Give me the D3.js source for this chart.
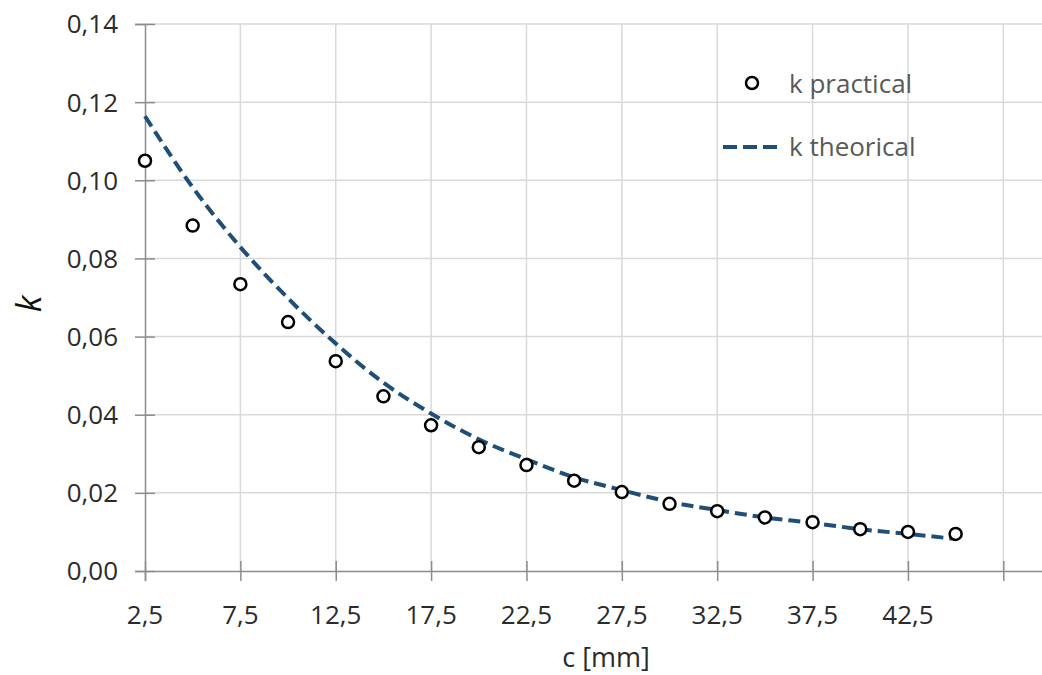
<!DOCTYPE html>
<html>
<head>
<meta charset="utf-8">
<script src="https://cdn.jsdelivr.net/npm/d3@7"></script>
<style>
  body { margin: 0; background: #fff; }
  svg { display: block; font-family: "Open Sans", Lato, sans-serif; }
  .tick-label { fill: #2b2b2b; font-size: 26px; }
  .legend-label { fill: #595959; font-size: 26px; }
</style>
</head>
<body>
<div id="chart"></div>
<script>
// c [mm]
var cValues = [2.5, 5, 7.5, 10, 12.5, 15, 17.5, 20, 22.5, 25, 27.5, 30, 32.5, 35, 37.5, 40, 42.5, 45];
var kPractical = [0.1050, 0.0884, 0.0734, 0.0637, 0.0537, 0.0447, 0.0373, 0.0317, 0.0271, 0.0231,
                  0.0202, 0.0172, 0.0153, 0.0137, 0.0125, 0.0107, 0.0100, 0.0095];
var kTheorical = [0.1164, 0.0982, 0.0829, 0.0698, 0.0582, 0.0482, 0.0403, 0.0337, 0.0286, 0.0240,
                  0.0207, 0.0177, 0.0156, 0.0137, 0.0123, 0.0107, 0.0095, 0.0082];
var xTicks = [2.5, 7.5, 12.5, 17.5, 22.5, 27.5, 32.5, 37.5, 42.5, 47.5];
var xTickLabels = ["2,5", "7,5", "12,5", "17,5", "22,5", "27,5", "32,5", "37,5", "42,5", ""];
var yTicks = [0, 0.02, 0.04, 0.06, 0.08, 0.10, 0.12, 0.14];
var seriesNames = ["k practical", "k theorical"];

var width = 1042, height = 675;
var plot = { left: 145, top: 24, right: 1051, bottom: 571 };
var lineColor = "#1f4e79", gridColor = "#d9d9d9", axisColor = "#8c8c8c";

var svg = d3.select("#chart").append("svg")
    .attr("width", width)
    .attr("height", height);

var x = d3.scaleLinear()
    .domain([2.5, 50])
    .range([plot.left, plot.right]);

var y = d3.scaleLinear()
    .domain([0, 0.14])
    .range([plot.bottom, plot.top]);

// gridlines
svg.append("g")
    .selectAll("line")
    .data(yTicks.slice(1))
  .enter().append("line")
    .attr("x1", plot.left)
    .attr("x2", plot.right)
    .attr("y1", function(d){ return y(d); })
    .attr("y2", function(d){ return y(d); })
    .attr("stroke", gridColor)
    .attr("stroke-width", 1.5);

svg.append("g")
    .selectAll("line")
    .data(xTicks.slice(1))
  .enter().append("line")
    .attr("x1", function(d){ return x(d); })
    .attr("x2", function(d){ return x(d); })
    .attr("y1", plot.top)
    .attr("y2", plot.bottom)
    .attr("stroke", gridColor)
    .attr("stroke-width", 1.5);

// axes (cross tick marks)
var xAxis = svg.append("g")
    .attr("transform", "translate(0," + plot.bottom + ")")
    .call(d3.axisBottom(x).tickValues(xTicks).tickSize(10).tickFormat(""));
var yAxis = svg.append("g")
    .attr("transform", "translate(" + plot.left + ",0)")
    .call(d3.axisLeft(y).tickValues(yTicks).tickSize(10).tickFormat(""));

[xAxis, yAxis].forEach(function(ax){
  ax.select(".domain").attr("stroke", axisColor).attr("stroke-width", 1.5);
  ax.selectAll(".tick line").attr("stroke", axisColor).attr("stroke-width", 1.5);
});
xAxis.selectAll(".tick line").attr("y1", -10);
yAxis.selectAll(".tick line").attr("x1", 10);

// tick labels
svg.append("g")
    .selectAll("text")
    .data(xTicks)
  .enter().append("text")
    .attr("class", "tick-label")
    .attr("x", function(d){ return x(d); })
    .attr("y", plot.bottom + 53)
    .attr("text-anchor", "middle")
    .text(function(d, i){ return xTickLabels[i]; });

svg.append("g")
    .selectAll("text")
    .data(yTicks)
  .enter().append("text")
    .attr("class", "tick-label")
    .attr("x", plot.left - 27)
    .attr("y", function(d){ return y(d); })
    .attr("dy", "0.36em")
    .attr("text-anchor", "end")
    .text(function(d){ return d3.format(".2f")(d).replace(".", ","); });

// axis titles
svg.append("text")
    .attr("x", 606)
    .attr("y", 667)
    .attr("text-anchor", "middle")
    .attr("fill", "#2b2b2b")
    .style("font-size", "27px")
    .text("c [mm]");

svg.append("text")
    .attr("transform", "translate(41,304) rotate(-90)")
    .attr("text-anchor", "middle")
    .attr("fill", "#111")
    .style("font-size", "34px")
    .style("font-style", "italic")
    .text("k");

// theoretical curve
var line = d3.line()
    .x(function(d, i){ return x(cValues[i]); })
    .y(function(d){ return y(d); })
    .curve(d3.curveMonotoneX);

svg.append("path")
    .datum(kTheorical)
    .attr("fill", "none")
    .attr("stroke", lineColor)
    .attr("stroke-width", 4)
    .attr("stroke-dasharray", "12,6")
    .attr("d", line);

// practical points
svg.append("g")
    .selectAll("circle")
    .data(kPractical)
  .enter().append("circle")
    .attr("cx", function(d, i){ return x(cValues[i]); })
    .attr("cy", function(d){ return y(d); })
    .attr("r", 6)
    .attr("fill", "#fff")
    .attr("stroke", "#000")
    .attr("stroke-width", 2.5);

// legend
var legend = svg.append("g");
legend.append("circle")
    .attr("cx", 752)
    .attr("cy", 83)
    .attr("r", 6)
    .attr("fill", "#fff")
    .attr("stroke", "#000")
    .attr("stroke-width", 2.5);
legend.append("line")
    .attr("x1", 723)
    .attr("x2", 778)
    .attr("y1", 147)
    .attr("y2", 147)
    .attr("stroke", lineColor)
    .attr("stroke-width", 4)
    .attr("stroke-dasharray", "14,6");
legend.selectAll("text")
    .data(seriesNames)
  .enter().append("text")
    .attr("class", "legend-label")
    .attr("x", 789)
    .attr("y", function(d, i){ return 84 + i * 63; })
    .attr("dy", "0.35em")
    .text(function(d){ return d; });
</script>
</body>
</html>
